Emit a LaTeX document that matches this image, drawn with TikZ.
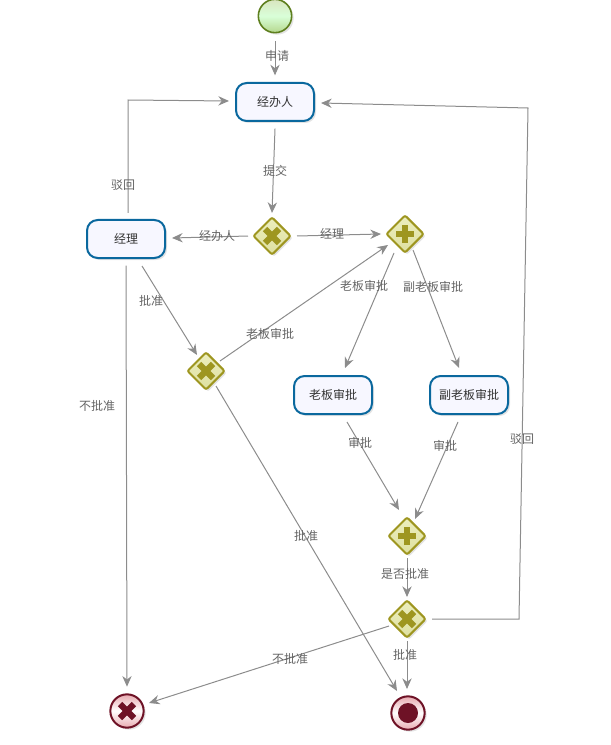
\documentclass[tikz,border=0pt]{standalone}
\usepackage{fontspec}
\setmainfont{Noto Sans CJK SC}
\usetikzlibrary{arrows.meta,shapes.geometric,shadows}

\definecolor{flowgrey}{RGB}{140,140,140}
\definecolor{labelgrey}{RGB}{100,100,100}
\definecolor{taskblue}{RGB}{10,104,158}
\definecolor{gateolive}{RGB}{158,150,32}
\definecolor{gatetop}{RGB}{236,238,190}
\definecolor{gatebottom}{RGB}{222,224,160}
\definecolor{endred}{RGB}{110,18,38}
\definecolor{endpink}{RGB}{232,170,176}
\definecolor{startgreen}{RGB}{94,127,30}

\tikzset{
  softshadow/.style={drop shadow={opacity=0.22,shadow xshift=1.5pt,shadow yshift=-1.5pt}},
  flow/.style={draw=flowgrey,line width=0.75pt,-{Stealth[length=8pt,width=7pt]}},
  flowlabel/.style={inner sep=0.75pt,text=labelgrey,font=\fontsize{9}{10}\selectfont},
  task/.style={rectangle,rounded corners=8pt,draw=taskblue,line width=1.5pt,fill=blue!3,
    minimum width=58.5pt,minimum height=28.5pt,text=black!80,softshadow,font=\fontsize{9}{10}\selectfont},
  gateway/.style={diamond,aspect=1,inner sep=0pt,minimum size=28.5pt,rounded corners=1.5pt,draw=gateolive,
    line width=1.5pt,top color=gatetop,bottom color=gatebottom,softshadow},
  gatexor/.style={gateway,path picture={
    \draw[gateolive,line width=4.6pt]
      ([shift={(-7,-7)}]path picture bounding box.center) -- ([shift={(7,7)}]path picture bounding box.center)
      ([shift={(-7,7)}]path picture bounding box.center) -- ([shift={(7,-7)}]path picture bounding box.center);}},
  gateand/.style={gateway,path picture={
    \draw[gateolive,line width=4.2pt]
      ([shift={(-9,0)}]path picture bounding box.center) -- ([shift={(9,0)}]path picture bounding box.center)
      ([shift={(0,-9)}]path picture bounding box.center) -- ([shift={(0,9)}]path picture bounding box.center);}},
  startevent/.style={circle,inner sep=0pt,minimum size=25pt,draw=startgreen,line width=1.2pt,
    top color=green!18!olive!25!white,bottom color=green!30!olive!45!white,middle color=white!85!green,softshadow},
  endevent/.style={circle,inner sep=0pt,minimum size=25pt,draw=endred,line width=1.5pt,
    top color=endpink,bottom color=endpink,middle color=white,softshadow},
  enderror/.style={endevent,path picture={
    \draw[endred,line width=4.6pt]
      ([shift={(-7,-7)}]path picture bounding box.center) -- ([shift={(7,7)}]path picture bounding box.center)
      ([shift={(-7,7)}]path picture bounding box.center) -- ([shift={(7,-7)}]path picture bounding box.center);}},
  endstop/.style={endevent,path picture={
    \fill[endred] (path picture bounding box.center) circle (7.5pt);}}
}

\begin{document}
\begin{tikzpicture}[x=0.75pt,y=0.75pt,yscale=-1,xscale=1]
  \useasboundingbox (0,0) rectangle (610,745);

  % Events
  \node[startevent] (start) at (275,16) {};
  \node[enderror] (errorend) at (127,711) {};
  \node[endstop] (stopend) at (408,713) {};
  % Tasks
  \node[task] (handler) at (275,102) {经办人};
  \node[task] (manager) at (126,239) {经理};
  \node[task] (boss) at (333,395) {老板审批};
  \node[task] (viceboss) at (469,395) {副老板审批};
  % Gateways
  \node[gatexor] (gatesubmit) at (272,236) {};
  \node[gateand] (gatesplit) at (405,234) {};
  \node[gatexor] (gatemanager) at (206,371) {};
  \node[gateand] (gatejoin) at (407,536) {};
  \node[gatexor] (gatefinal) at (407,619) {};

  % Flows
  \draw[flow] ([yshift=6pt]start.south) -- ([yshift=-5pt]handler.north);
  \draw[flow] ([yshift=5pt]handler.south) -- ([shift={(0,-3)}]gatesubmit.north);
  \draw[flow] ([shift={(-4,0)}]gatesubmit.west) -- ([shift={(6,-1)}]manager.east);
  \draw[flow] ([shift={(5,0)}]gatesubmit.east) -- ([shift={(-4,0)}]gatesplit.west);
  \draw[flow] ([shift={(2,-6)}]manager.north) -- ([shift={(2,-119)}]manager.north) -- ([shift={(-6,-1)}]handler.west);
  \draw[flow] ([shift={(16,7)}]manager.south) -- ([shift={(-9,-16)}]gatemanager.center);
  \draw[flow] ([yshift=5pt]manager.south) -- ([yshift=-5pt]errorend.north);
  \draw[flow] ([shift={(14,-10)}]gatemanager.center) -- ([shift={(-17,11)}]gatesplit.center);
  \draw[flow] ([shift={(10,15)}]gatemanager.center) -- ([shift={(-11,-22)}]stopend.center);
  \draw[flow] ([shift={(-11,19)}]gatesplit.center) -- ([shift={(12,-7)}]boss.north);
  \draw[flow] ([shift={(8,16)}]gatesplit.center) -- ([shift={(-10,-7)}]viceboss.north);
  \draw[flow] ([shift={(14,7)}]boss.south) -- ([shift={(-8,-26)}]gatejoin.center);
  \draw[flow] ([shift={(-11,7)}]viceboss.south) -- ([shift={(8,-17)}]gatejoin.center);
  \draw[flow] ([yshift=1.5pt]gatejoin.south) -- ([yshift=-1.5pt]gatefinal.north);
  \draw[flow] ([shift={(5,0)}]gatefinal.east) -- ([shift={(112,0)}]gatefinal.center) -- ([shift={(213,6)}]handler.east) -- ([shift={(6,1)}]handler.east);
  \draw[flow] ([shift={(-18,7)}]gatefinal.center) -- ([shift={(22,-8)}]errorend.center);
  \draw[flow] ([yshift=1.5pt]gatefinal.south) -- ([shift={(-1,-24)}]stopend.center);

  % Labels
  \node[flowlabel] (lblapply) at (277,56) {申请};
  \node[flowlabel] (lblsubmit) at (275,171) {提交};
  \node[flowlabel] (lblhandler) at (217,236) {经办人};
  \node[flowlabel] (lblmanager) at (332,234) {经理};
  \node[flowlabel] (lblreject) at (123,185) {驳回};
  \node[flowlabel] (lblapprove) at (151,301) {批准};
  \node[flowlabel] (lbldeny) at (97,406) {不批准};
  \node[flowlabel] (lblbossa) at (270,334) {老板审批};
  \node[flowlabel] (lblbossb) at (364,286) {老板审批};
  \node[flowlabel] (lblvice) at (433,287) {副老板审批};
  \node[flowlabel] (lblchecka) at (360,443) {审批};
  \node[flowlabel] (lblcheckb) at (445,446) {审批};
  \node[flowlabel] (lblpass) at (306,536) {批准};
  \node[flowlabel] (lblwhether) at (405,574) {是否批准};
  \node[flowlabel] (lblback) at (522,439) {驳回};
  \node[flowlabel] (lbldenyb) at (290,659) {不批准};
  \node[flowlabel] (lblpassb) at (405,655) {批准};
\end{tikzpicture}
\end{document}
